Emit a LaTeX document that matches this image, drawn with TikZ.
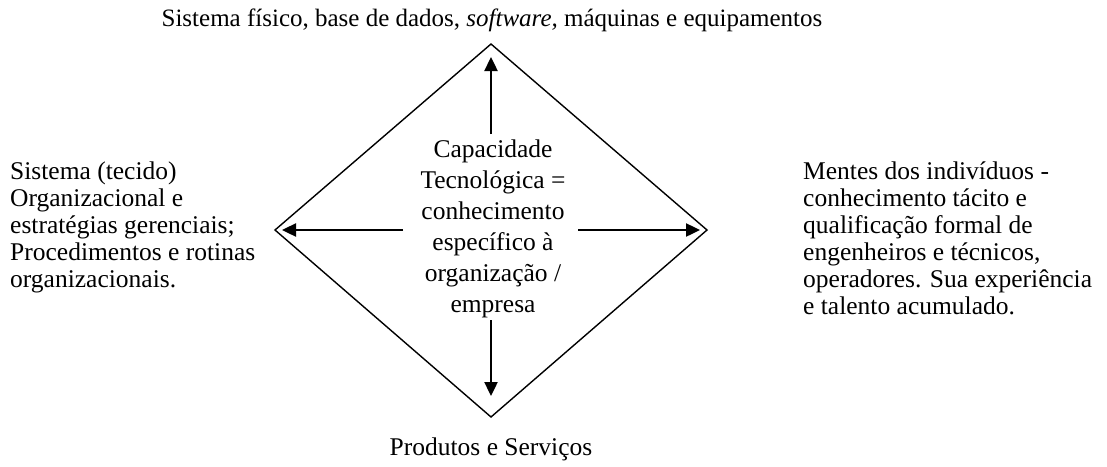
\documentclass[tikz,border=0pt]{standalone}
\usepackage{fontspec}
\setmainfont{Liberation Serif}
\usetikzlibrary{arrows.meta}
\begin{document}
\begin{tikzpicture}[x=1pt,y=-1pt,
  txt/.style={inner sep=0pt, font=\fontsize{25.5}{27}\selectfont, align=left},
  ctxt/.style={inner sep=0pt, font=\fontsize{25.5}{31}\selectfont, align=center},
  edge/.style={line width=1.4pt},
  arr/.style={line width=2.4pt, -{Triangle[length=14pt,width=13pt]}}]
\useasboundingbox (0,0) rectangle (1107,466);
% diamond vertices
\coordinate (T) at (491,44);
\coordinate (L) at (275,230);
\coordinate (R) at (707,230);
\coordinate (B) at (491,417);
\draw[edge, line join=miter] (T) -- (R) -- (B) -- (L) -- cycle;
% centre text (anchor base = last line baseline)
\node[ctxt, anchor=base] (c) at (493,312) {Capacidade\\Tecnológica =\\conhecimento\\específico à\\organização /\\empresa};
% arrow start and end points
\coordinate (cu) at (491,134);
\coordinate (cl) at (403,230);
\coordinate (cr) at (578,230);
\coordinate (cd) at (491,320);
\coordinate (tu) at (491,57);
\coordinate (tl) at (282,230);
\coordinate (tr) at (700,230);
\coordinate (td) at (491,396);
\draw[arr] (cu) -- (tu);
\draw[arr] (cl) -- (tl);
\draw[arr] (cr) -- (tr);
\draw[arr] (cd) -- (td);
% outer texts
\node[txt, anchor=base, font=\fontsize{25}{27}\selectfont] (top) at (492,26) {Sistema físico, base de dados, \textit{software,} máquinas e equipamentos};
\node[txt, anchor=base west] (left) at (10,287) {Sistema (tecido)\\Organizacional e\\estratégias gerenciais;\\Procedimentos e rotinas\\organizacionais.};
\node[txt, anchor=base west] (right) at (803,314) {Mentes dos indivíduos -\\conhecimento tácito e\\qualificação formal de\\engenheiros e técnicos,\\operadores. Sua experiência\\e talento acumulado.};
\node[txt, anchor=base] (bottom) at (491,455) {Produtos e Serviços};
\end{tikzpicture}
\end{document}
